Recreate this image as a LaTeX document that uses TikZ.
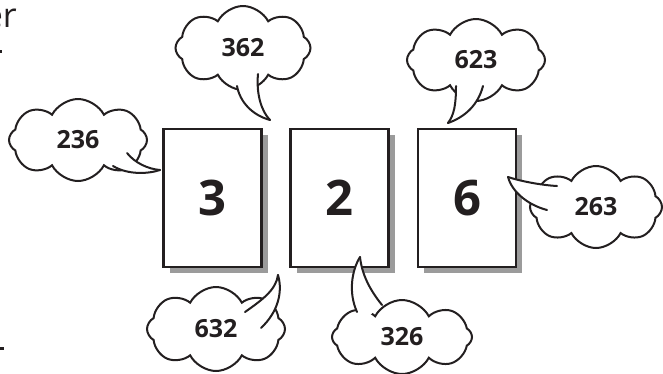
\documentclass[tikz,border=0pt]{standalone}
\usepackage{fontspec}
\setmainfont{Open Sans}
\usetikzlibrary{shapes.symbols,shadows}
\definecolor{ink}{HTML}{231F20}
\definecolor{shade}{HTML}{9B9B9B}
% #1 base A, #2 #3 controls, #4 tip, #5 #6 controls, #7 base B, #8 point inside the cloud
\newcommand\calltail[8]{%
  \fill[white] #1 .. controls #2 and #3 .. #4 .. controls #6 and #5 .. #7 -- #8 -- cycle;
  \draw[tailline] #1 .. controls #2 and #3 .. #4;
  \draw[tailline] #7 .. controls #5 and #6 .. #4;}
\begin{document}
\begin{tikzpicture}[x=1pt,y=-1pt,
  card/.style={draw=ink, line width=2.5pt, fill=white, minimum width=98pt, minimum height=138pt,
    inner sep=0pt, font=\fontsize{49}{49}\selectfont\bfseries, text=ink,
    drop shadow={shadow xshift=6pt, shadow yshift=-6pt, fill=shade, opacity=1}},
  bubble/.style={cloud, cloud puffs=8, cloud puff arc=125, draw=ink, fill=white, line width=2pt,
    inner sep=0pt, font=\fontsize{25}{25}\selectfont\bfseries, text=ink},
  tailline/.style={draw=ink, line width=2pt, line cap=round}]
\useasboundingbox (0,0) rectangle (663,373);
% cropped fragments at the left edge
\node[anchor=base east, inner sep=0pt, font=\fontsize{34}{34}\selectfont, text=ink] (frag) at (17,27) {er};
\fill[ink] (-5,50) rectangle (2,53);
\fill[ink] (-5,347) rectangle (4,350);
% cards
\node[card] (c3) at (212.5,198) {3};
\node[card] (c2) at (339.5,198) {2};
\node[card] (c6) at (467,198) {6};
% clouds
\node[bubble, minimum width=135pt, minimum height=84pt] (b362) at (243,48) {362};
\coordinate (t362) at (270,120);
\calltail{(237,86)}{(240,102)}{(252,115)}{(t362)}{(256,95)}{(262,112)}{(258,74)}{(245,74)}
\node[bubble, minimum width=138pt, minimum height=82pt] (b623) at (476,60) {623};
\coordinate (t623) at (448,123);
\calltail{(456,86)}{(456,105)}{(454,115)}{(t623)}{(478,105)}{(465,117)}{(483,86)}{(470,80)}
\node[bubble, minimum width=138pt, minimum height=82pt] (b236) at (78,140) {236};
\coordinate (t236) at (160,170);
\calltail{(127,153)}{(135,163)}{(148,169)}{(t236)}{(128,175)}{(148,174)}{(113,166)}{(115,155)}
\node[bubble, minimum width=132pt, minimum height=82pt] (b263) at (596,207) {263};
\coordinate (t263) at (508,177);
\calltail{(557,186)}{(540,185)}{(520,181)}{(t263)}{(528,205)}{(512,192)}{(547,210)}{(558,200)}
\node[bubble, minimum width=138pt, minimum height=84pt] (b632) at (216,329) {632};
\coordinate (t632) at (278,275);
\calltail{(245,312)}{(262,300)}{(276,290)}{(t632)}{(278,312)}{(283,292)}{(261,328)}{(255,318)}
\node[bubble, minimum width=140pt, minimum height=74pt] (b326) at (402,337) {326};
\coordinate (t326) at (360,257);
\calltail{(357,312)}{(348,292)}{(352,270)}{(t326)}{(370,290)}{(362,275)}{(382,305)}{(370,315)}
\end{tikzpicture}
\end{document}
